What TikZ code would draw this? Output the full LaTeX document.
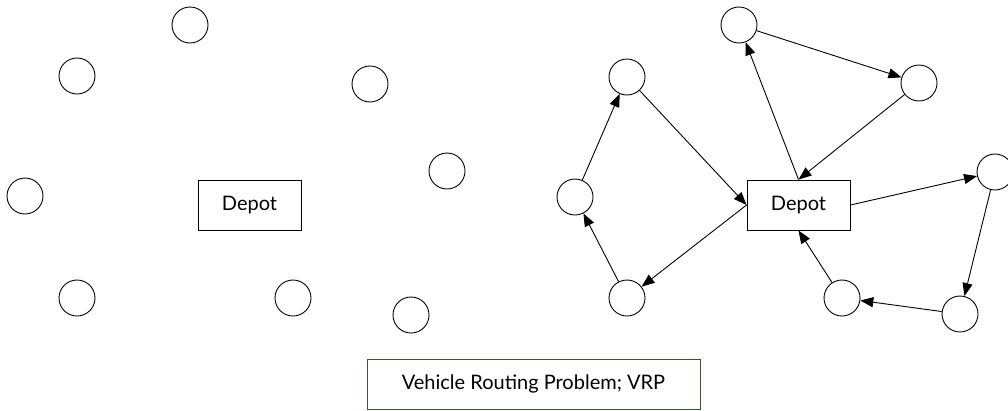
\documentclass[tikz,border=0pt]{standalone}
\usepackage{fontspec}
\setmainfont{Lato}
\usetikzlibrary{arrows.meta}
\definecolor{boxgreen}{HTML}{2E5E1E}
\begin{document}
\begin{tikzpicture}[x=1pt,y=-1pt,
  city/.style={circle,draw,line width=0.9pt,minimum size=36pt,inner sep=0pt},
  depot/.style={rectangle,draw,line width=0.9pt,minimum width=103pt,minimum height=50pt,font=\fontsize{20}{24}\selectfont},
  route/.style={line width=0.9pt,-{Triangle[length=13pt,width=10pt]}}]
\useasboundingbox (0,0) rectangle (1008,410);
% left
\node[city] (l1) at (190,25) {};
\node[city] (l2) at (77,76) {};
\node[city] (l3) at (25,196) {};
\node[city] (l4) at (77,298) {};
\node[city] (l5) at (370,84) {};
\node[city] (l6) at (447,171) {};
\node[city] (l7) at (293,298) {};
\node[city] (l8) at (411,315) {};
\node[depot] (ld) at (249.5,205) {Depot};
% right
\node[city] (r1) at (627,77) {};
\node[city] (r2) at (739,25) {};
\node[city] (r3) at (919,83) {};
\node[city] (r4) at (575,197) {};
\node[city] (r5) at (995,172) {};
\node[city] (r6) at (627,298) {};
\node[city] (r7) at (842,298) {};
\node[city] (r8) at (960,314) {};
\node[depot] (rd) at (798.5,205) {Depot};
% routes
\draw[route] (rd.west) -- (r6);
\draw[route] (r6) -- (r4);
\draw[route] (r4) -- (r1);
\draw[route] (r1) -- (rd.west);
\draw[route] (rd.north) -- (r2);
\draw[route] (r2) -- (r3);
\draw[route] (r3) -- (rd.north);
\draw[route] (rd.east) -- (r5);
\draw[route] (r5) -- (r8);
\draw[route] (r8) -- (r7);
\draw[route] (r7) -- (rd.south);
% title
\node[draw=boxgreen,line width=0.9pt,minimum width=333pt,minimum height=50pt,font=\fontsize{20}{24}\selectfont] (title) at (533.5,384) {Vehicle Routing Problem; VRP};
\end{tikzpicture}
\end{document}
